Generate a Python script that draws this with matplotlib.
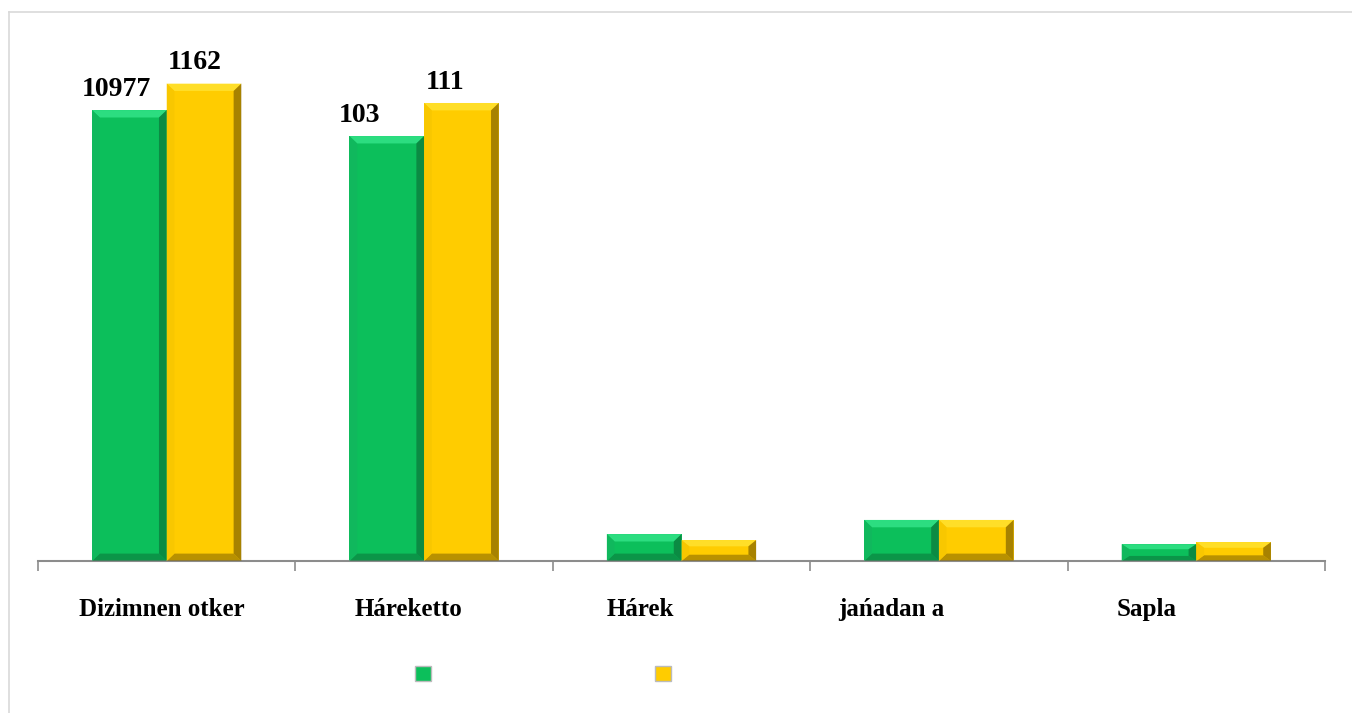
import numpy as np
import matplotlib
matplotlib.use('Agg')
import matplotlib.pyplot as plt
from matplotlib.patches import Polygon, Patch
from matplotlib.lines import Line2D

# data
categories = ['Dizimnen otker', 'Háreketto', 'Hárek', 'jańadan a', 'Sapla']
series_names = ['', '']
green_vals = [10977, 10345, 655, 1000, 410]
yellow_vals = [11623, 11150, 510, 1000, 460]
# the value labels only show what is visible in the picture
value_labels = [('10977', '1162'), ('103', '111')]

plt.rcParams['font.family'] = ['Liberation Serif', 'DejaVu Serif']

fig = plt.figure(figsize=(13.52, 7.13), dpi=100)
ax = fig.add_axes([38/1352, 152/713, 1287/1352, 534/713])

x = np.arange(len(categories))
w = 0.29

colors = {
    'green': dict(base='#0cbf5b', light='#35e58a', side='#12b75e', dark='#0b7a3c'),
    'yellow': dict(base='#ffcc00', light='#ffe333', side='#f7c600', dark='#8a6a00'),
}


def bevel(rect, c):
    # fake 3D bevel like the office charts
    x0, y0 = rect.get_x(), rect.get_y()
    bw, bh = rect.get_width(), rect.get_height()
    x1, y1 = x0 + bw, y0 + bh
    bx = 0.03
    by = min(180, bh * 0.3)
    polys = [
        ([(x0, y1), (x1, y1), (x1 - bx, y1 - by), (x0 + bx, y1 - by)], c['light'], 0.8),
        ([(x0, y0), (x1, y0), (x1 - bx, y0 + by), (x0 + bx, y0 + by)], c['dark'], 0.6),
        ([(x0, y0), (x0, y1), (x0 + bx, y1 - by), (x0 + bx, y0 + by)], c['side'], 0.8),
        ([(x1, y0), (x1, y1), (x1 - bx, y1 - by), (x1 - bx, y0 + by)], c['dark'], 0.75),
    ]
    for pts, col, a in polys:
        ax.add_patch(Polygon(pts, closed=True, facecolor=col, edgecolor='none', alpha=a, zorder=3))


bars_g = ax.bar(x - w/2, green_vals, w, color=colors['green']['base'], edgecolor='none', zorder=2)
bars_y = ax.bar(x + w/2, yellow_vals, w, color=colors['yellow']['base'], edgecolor='none', zorder=2)
for r in bars_g:
    bevel(r, colors['green'])
for r in bars_y:
    bevel(r, colors['yellow'])

# value labels (first two groups)
for i, (lg, ly) in enumerate(value_labels):
    ax.text(bars_g[i].get_x() - 0.04, green_vals[i] + 200, lg, ha='left', va='bottom',
            fontsize=20, fontweight='bold', zorder=5)
    ax.text(bars_y[i].get_x() + 0.005, yellow_vals[i] + 200, ly, ha='left', va='bottom',
            fontsize=20, fontweight='bold', zorder=5)

# category labels, shown cut off as in the picture
offsets = [-0.34, -0.27, -0.29, -0.39, -0.31]
for i, lab in enumerate(categories):
    ax.text(i + offsets[i], -900, lab, ha='left', va='top', fontsize=18, fontweight='bold')

ax.set_xlim(-0.5, len(categories) - 0.5)
ax.set_ylim(0, 13000)
ax.set_yticks([])
ax.set_xticks(np.arange(len(categories) + 1) - 0.5)
ax.set_xticklabels([])
ax.tick_params(axis='x', length=7, width=1.2, color='#8c8c8c', direction='out')
for s in ['top', 'right', 'left']:
    ax.spines[s].set_visible(False)
ax.spines['bottom'].set_color('#8c8c8c')
ax.spines['bottom'].set_linewidth(1.5)

handles = [Patch(facecolor=colors['green']['base'], edgecolor='#bbbbbb'),
           Patch(facecolor=colors['yellow']['base'], edgecolor='#bbbbbb')]
fig.legend(handles, series_names, loc='center', bbox_to_anchor=(543/1352, 1 - 675/713),
           ncol=2, frameon=False, handlelength=1.0, handleheight=1.0, handletextpad=0,
           columnspacing=13.4, fontsize=12)

# light chart border
fig.add_artist(Line2D([9/1352, 1], [1 - 12/713, 1 - 12/713], transform=fig.transFigure, color='#d9d9d9', lw=1.2))
fig.add_artist(Line2D([9/1352, 9/1352], [0, 1 - 12/713], transform=fig.transFigure, color='#d9d9d9', lw=1.2))

fig.savefig('out.png', dpi=100)
